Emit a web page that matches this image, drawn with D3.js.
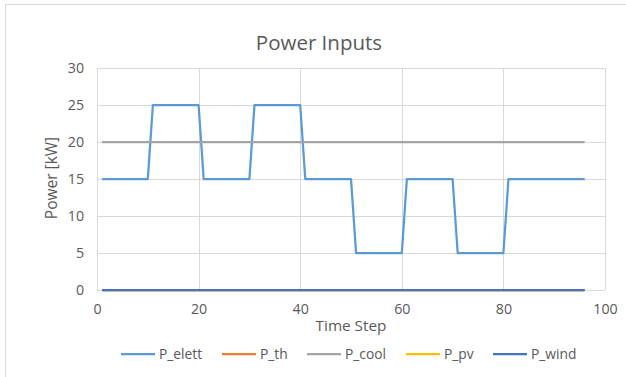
<!DOCTYPE html>
<html>
<head>
<meta charset="utf-8">
<script src="https://cdn.jsdelivr.net/npm/d3@7"></script>
<style>
  html, body { margin: 0; padding: 0; background: #fff; }
  svg { display: block; }
  text { font-family: "Open Sans", "Noto Sans", sans-serif; fill: #595959; }
</style>
</head>
<body>
<svg id="chart" width="626" height="377"></svg>
<script>
// Time steps 1..96
const timeSteps = d3.range(1, 97);

const pElett = [
  15,15,15,15,15,15,15,15,15,15,
  25,25,25,25,25,25,25,25,25,25,
  15,15,15,15,15,15,15,15,15,15,
  25,25,25,25,25,25,25,25,25,25,
  15,15,15,15,15,15,15,15,15,15,
  5,5,5,5,5,5,5,5,5,5,
  15,15,15,15,15,15,15,15,15,15,
  5,5,5,5,5,5,5,5,5,5,
  15,15,15,15,15,15,15,15,15,15,
  15,15,15,15,15,15
];
const pTh = [
  0,0,0,0,0,0,0,0,0,0, 0,0,0,0,0,0,0,0,0,0,
  0,0,0,0,0,0,0,0,0,0, 0,0,0,0,0,0,0,0,0,0,
  0,0,0,0,0,0,0,0,0,0, 0,0,0,0,0,0,0,0,0,0,
  0,0,0,0,0,0,0,0,0,0, 0,0,0,0,0,0,0,0,0,0,
  0,0,0,0,0,0,0,0,0,0, 0,0,0,0,0,0
];
const pCool = [
  20,20,20,20,20,20,20,20,20,20, 20,20,20,20,20,20,20,20,20,20,
  20,20,20,20,20,20,20,20,20,20, 20,20,20,20,20,20,20,20,20,20,
  20,20,20,20,20,20,20,20,20,20, 20,20,20,20,20,20,20,20,20,20,
  20,20,20,20,20,20,20,20,20,20, 20,20,20,20,20,20,20,20,20,20,
  20,20,20,20,20,20,20,20,20,20, 20,20,20,20,20,20
];
const pPv = [
  0,0,0,0,0,0,0,0,0,0, 0,0,0,0,0,0,0,0,0,0,
  0,0,0,0,0,0,0,0,0,0, 0,0,0,0,0,0,0,0,0,0,
  0,0,0,0,0,0,0,0,0,0, 0,0,0,0,0,0,0,0,0,0,
  0,0,0,0,0,0,0,0,0,0, 0,0,0,0,0,0,0,0,0,0,
  0,0,0,0,0,0,0,0,0,0, 0,0,0,0,0,0
];
const pWind = [
  0,0,0,0,0,0,0,0,0,0, 0,0,0,0,0,0,0,0,0,0,
  0,0,0,0,0,0,0,0,0,0, 0,0,0,0,0,0,0,0,0,0,
  0,0,0,0,0,0,0,0,0,0, 0,0,0,0,0,0,0,0,0,0,
  0,0,0,0,0,0,0,0,0,0, 0,0,0,0,0,0,0,0,0,0,
  0,0,0,0,0,0,0,0,0,0, 0,0,0,0,0,0
];

const seriesNames = ["P_elett", "P_th", "P_cool", "P_pv", "P_wind"];
const seriesValues = [pElett, pTh, pCool, pPv, pWind];
const seriesColors = ["#5B9BD5", "#ED7D31", "#A5A5A5", "#FFC000", "#4472C4"];

const xTicks = [0, 20, 40, 60, 80, 100];
const yTicks = [0, 5, 10, 15, 20, 25, 30];

const svg = d3.select("#chart");

// outer chart frame
svg.append("rect")
  .attr("x", 5.5).attr("y", 4.5)
  .attr("width", 640).attr("height", 400)
  .attr("fill", "none").attr("stroke", "#D9D9D9").attr("stroke-width", 1);

const plot = { left: 97, right: 605, top: 68, bottom: 290 };

const x = d3.scaleLinear().domain([0, 100]).range([plot.left, plot.right]);
const y = d3.scaleLinear().domain([0, 30]).range([plot.bottom, plot.top]);

// gridlines
const grid = svg.append("g");
grid.selectAll("line.h").data(yTicks).join("line")
  .attr("x1", plot.left).attr("x2", plot.right)
  .attr("y1", d => Math.round(y(d)) + 0.5).attr("y2", d => Math.round(y(d)) + 0.5)
  .attr("stroke", "#D9D9D9").attr("stroke-width", 1);
grid.selectAll("line.v").data(xTicks).join("line")
  .attr("y1", plot.top).attr("y2", plot.bottom)
  .attr("x1", d => Math.round(x(d)) + 0.5).attr("x2", d => Math.round(x(d)) + 0.5)
  .attr("stroke", "#D9D9D9").attr("stroke-width", 1);

// axes (labels only)
const xAxis = svg.append("g")
  .attr("transform", `translate(0,${plot.bottom})`)
  .call(d3.axisBottom(x).tickValues(xTicks).tickSize(0).tickPadding(14));
const yAxis = svg.append("g")
  .attr("transform", `translate(${plot.left},0)`)
  .call(d3.axisLeft(y).tickValues(yTicks).tickSize(0).tickPadding(13));
[xAxis, yAxis].forEach(a => {
  a.select(".domain").remove();
  a.selectAll("text")
    .style("font-family", '"Open Sans", "Noto Sans", sans-serif')
    .style("font-size", "14.2px")
    .attr("fill", "#595959");
});

// series lines
const line = d3.line()
  .x((d, i) => x(timeSteps[i]))
  .y(d => y(d));

svg.append("g").selectAll("path").data(seriesValues).join("path")
  .attr("d", d => line(d))
  .attr("fill", "none")
  .attr("stroke", (d, i) => seriesColors[i])
  .attr("stroke-width", 2.25)
  .attr("stroke-linejoin", "round");

// title
svg.append("text")
  .attr("x", 319).attr("y", 50)
  .attr("text-anchor", "middle")
  .style("font-size", "20.5px")
  .text("Power Inputs");

// axis titles
svg.append("text")
  .attr("x", 351).attr("y", 331)
  .attr("text-anchor", "middle")
  .style("font-size", "15.3px")
  .text("Time Step");

svg.append("text")
  .attr("transform", "translate(57,178) rotate(-90)")
  .attr("text-anchor", "middle")
  .style("font-size", "15.5px")
  .text("Power [kW]");

// legend
const legendX = [121, 222, 307, 406, 493];
const legend = svg.append("g");
seriesNames.forEach((name, i) => {
  const g = legend.append("g").attr("transform", `translate(${legendX[i]},354)`);
  g.append("line")
    .attr("x1", 0).attr("x2", 34).attr("y1", 0).attr("y2", 0)
    .attr("stroke", seriesColors[i]).attr("stroke-width", 2.25);
  g.append("text")
    .attr("x", 38).attr("y", 5)
    .style("font-size", "13.8px")
    .text(name);
});
</script>
</body>
</html>
